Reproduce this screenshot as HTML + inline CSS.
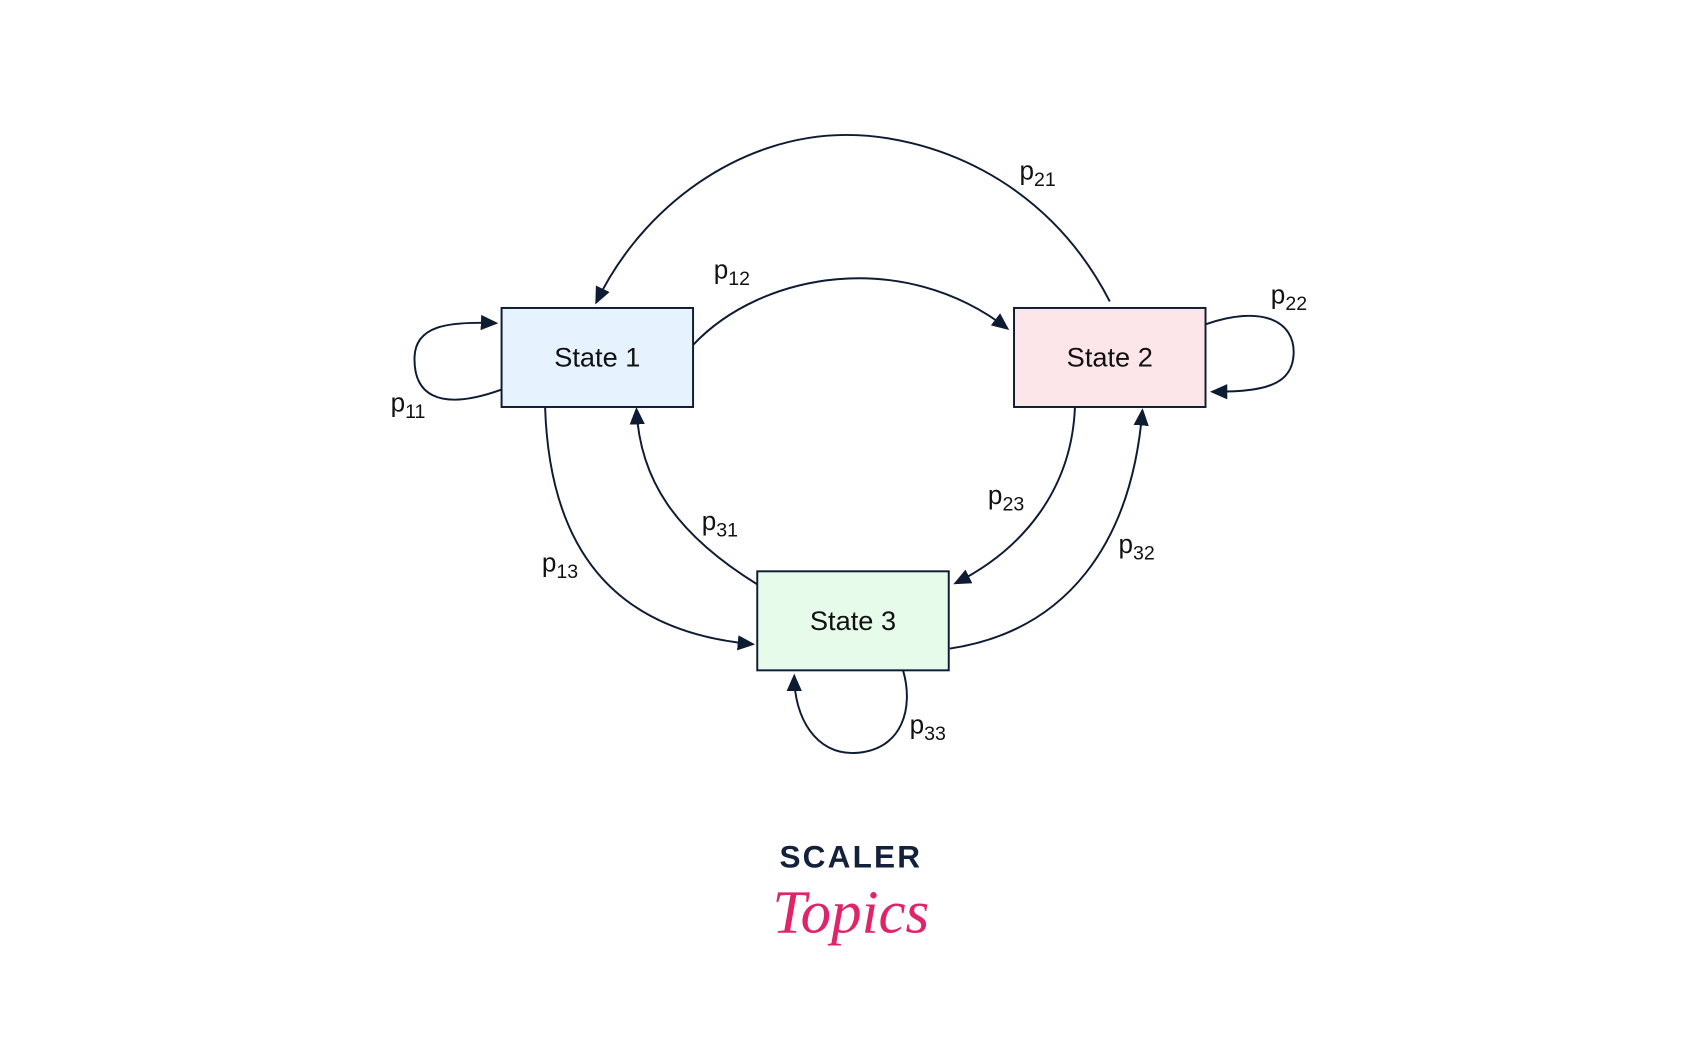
<!DOCTYPE html>
<html><head><meta charset="utf-8"><style>
html,body{margin:0;padding:0;background:#fff;width:1706px;height:1061px;overflow:hidden}
svg{display:block}
text{font-family:"Liberation Sans","DejaVu Sans",sans-serif;fill:#111}
</style></head><body>
<svg width="1706" height="1061" viewBox="0 0 1568 975" preserveAspectRatio="none">
<defs>
<marker id="b" markerWidth="16" markerHeight="16" refX="14" refY="8" orient="auto" markerUnits="userSpaceOnUse" viewBox="0 0 16 16"><path d="M0,1 L16,8 L0,15 z" fill="#0d1b33"/></marker></defs>
<g fill="none" stroke="#0d1b33" stroke-width="1.8">
<path d="M1020,277 C960,160 850,124 778,124 C680,124 590,190 548,278" marker-end="url(#b)"/>
<path d="M637,317 C700,250 830,228 926,302" marker-end="url(#b)"/>
<path d="M461,358 C400,380 380,360 381,328 C382,300 410,295 456,297" marker-end="url(#b)"/>
<path d="M1108,298 C1160,280 1190,295 1189,325 C1188,355 1160,360 1114,360" marker-end="url(#b)"/>
<path d="M501,374 C505,500 560,580 692,592" marker-end="url(#b)"/>
<path d="M696,537 C620,490 588,440 585,376" marker-end="url(#b)"/>
<path d="M988,374 C985,450 940,505 878,536" marker-end="url(#b)"/>
<path d="M873,596 C980,580 1040,500 1050,377" marker-end="url(#b)"/>
<path d="M830,616 C840,650 830,690 785,692 C750,693 730,660 730,621" marker-end="url(#b)"/>
</g>
<g stroke="#0d1b33" stroke-width="1.8">
<rect x="461" y="283" width="176" height="91" fill="#e6f2fd"/>
<rect x="932" y="283" width="176" height="91" fill="#fde6ea"/>
<rect x="696" y="525" width="176" height="91" fill="#e6fbe9"/>
</g>
<g font-size="25" text-anchor="middle">
<text x="549" y="337">State 1</text>
<text x="1020" y="337">State 2</text>
<text x="784" y="579">State 3</text>
</g>
<g font-size="24">
<text x="937" y="165">p<tspan font-size="18" dy="6">21</tspan></text>
<text x="656" y="256">p<tspan font-size="18" dy="6">12</tspan></text>
<text x="1168" y="279">p<tspan font-size="18" dy="6">22</tspan></text>
<text x="359" y="378">p<tspan font-size="18" dy="6">11</tspan></text>
<text x="908" y="463">p<tspan font-size="18" dy="6">23</tspan></text>
<text x="645" y="487">p<tspan font-size="18" dy="6">31</tspan></text>
<text x="498" y="525">p<tspan font-size="18" dy="6">13</tspan></text>
<text x="1028" y="508">p<tspan font-size="18" dy="6">32</tspan></text>
<text x="836" y="674">p<tspan font-size="18" dy="6">33</tspan></text>
</g>
<text x="782" y="797" font-size="29" font-weight="bold" text-anchor="middle" letter-spacing="2" style="fill:#13213b">SCALER</text>
<text x="782" y="857" font-size="56" font-style="italic" text-anchor="middle" style="fill:#e0246a;font-family:'Liberation Serif',serif">Topics</text>
</svg>
</body></html>
